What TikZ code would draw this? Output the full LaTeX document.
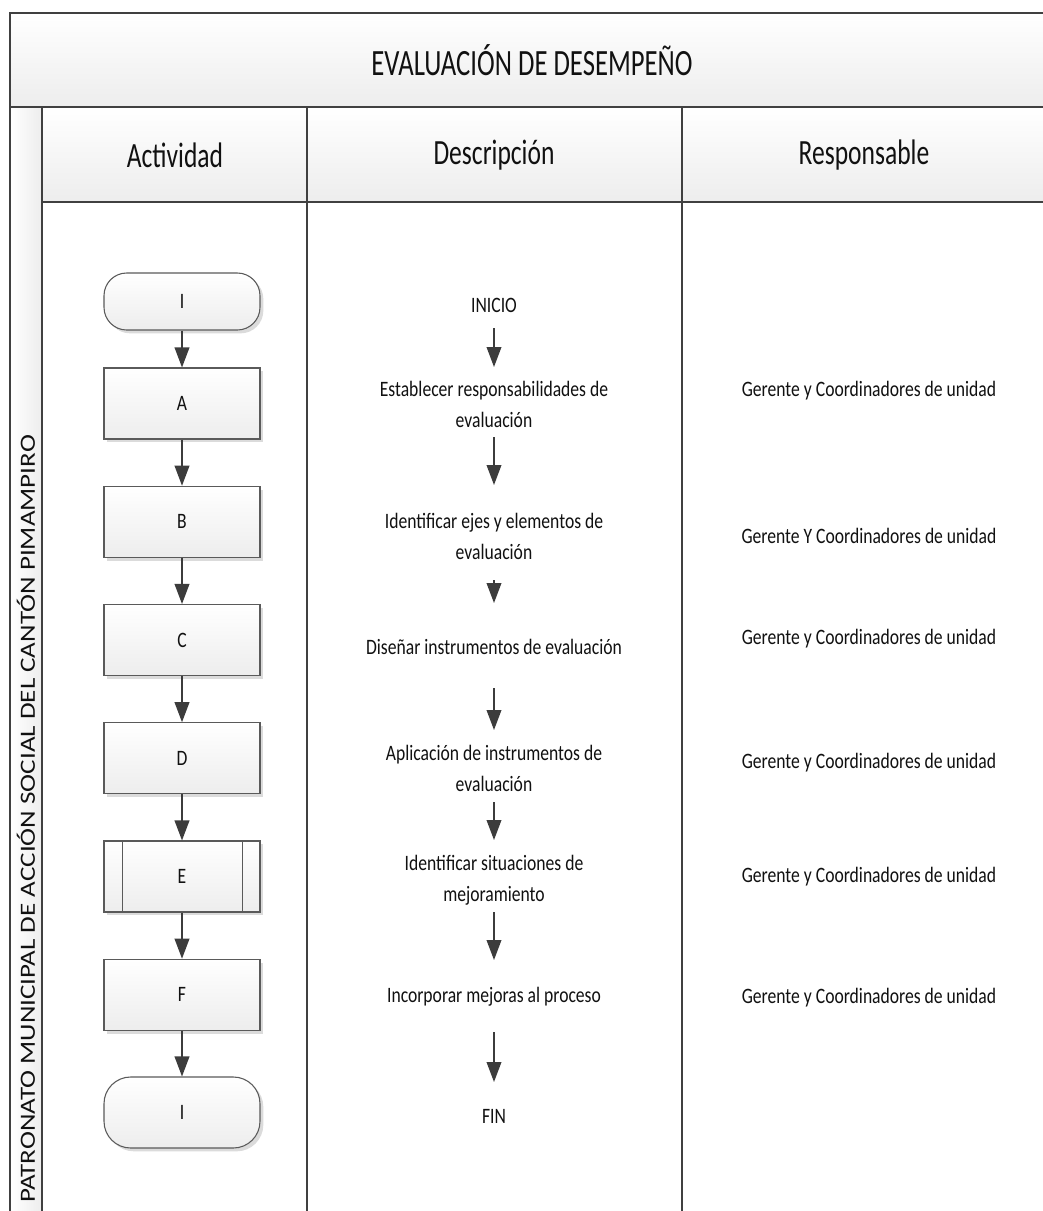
\documentclass[tikz,border=0pt]{standalone}
\usepackage{fontspec}
\setmainfont{Carlito}[FakeStretch=0.8]
\newfontfamily\headfont{Carlito}[FakeStretch=0.72]
\newfontfamily\lanefont{Carlito}
\usetikzlibrary{shadows,arrows.meta}
\definecolor{frameline}{HTML}{404040}
\definecolor{shapeline}{HTML}{5A5A5A}
\definecolor{arrowgray}{HTML}{3C3C3C}
\definecolor{cellbottom}{HTML}{EDEDED}
\definecolor{txt}{HTML}{111111}

\begin{document}
\begin{tikzpicture}[x=0.75pt,y=-0.75pt,
  cell/.style={draw=frameline,line width=1.6pt,top color=white,bottom color=cellbottom},
  hdr/.style={font=\headfont\fontsize{26.6}{30}\selectfont,text=txt},
  body/.style={font=\fontsize{16.5}{23.25}\selectfont,text=txt,align=center,inner sep=0pt},
  proc/.style={draw=shapeline,line width=0.8pt,top color=white,bottom color=cellbottom,
    minimum width=117pt,minimum height=53.25pt,inner sep=0pt,
    drop shadow={shadow xshift=2.5pt,shadow yshift=-2.5pt,fill=black!14,opacity=1},
    font=\fontsize{16.5}{20}\selectfont,text=txt},
  term/.style={proc,rounded corners=17pt},
  flow/.style={draw=arrowgray,line width=1.2pt,-{Triangle[length=15pt,width=11pt]}}
]
\useasboundingbox (0,0) rectangle (1043,1211);
\fill[white] (0,0) rectangle (1043,1211);

% title band and column headers
\shadedraw[cell] (10,13) rectangle (1047,107);
\shadedraw[cell] (42,107) rectangle (307,202);
\shadedraw[cell] (307,107) rectangle (682,202);
\shadedraw[cell] (682,107) rectangle (1047,202);
% lane strip
\shadedraw[draw=frameline,line width=1.6pt,left color=white,right color=cellbottom] (10,107) rectangle (42,1222);
% column separators
\draw[frameline,line width=1.6pt] (307,202) -- (307,1222);
\draw[frameline,line width=1.6pt] (682,202) -- (682,1222);

\node[font=\headfont\fontsize{27.8}{32}\selectfont,text=txt] (title) at (532,60) {EVALUACIÓN DE DESEMPEÑO};
\node[hdr] (hact) at (175,155) {Actividad};
\node[hdr] (hdesc) at (494,155) {Descripción};
\node[hdr] (hresp) at (864,155) {Responsable};
\node[rotate=90,text=txt] (lane) at (26,819)
  {\scalebox{1}[0.8]{\lanefont\fontsize{20.3}{24}\selectfont PATRONATO MUNICIPAL DE ACCIÓN SOCIAL DEL CANTÓN PIMAMPIRO}};

% activity flow
\node[term,minimum height=42.75pt] (i1) at (182,301.5) {I};
\node[proc] (a) at (182,403.5) {A};
\node[proc] (b) at (182,521.75) {B};
\node[proc] (c) at (182,640) {C};
\node[proc] (d) at (182,758.25) {D};
\node[proc] (e) at (182,876.5) {E};
\draw[shapeline,line width=0.8pt] ([xshift=14.25pt]e.north west) -- ([xshift=14.25pt]e.south west);
\draw[shapeline,line width=0.8pt] ([xshift=-13.5pt]e.north east) -- ([xshift=-13.5pt]e.south east);
\node[proc] (f) at (182,994.75) {F};
\node[term,rounded corners=20pt] (i2) at (182,1112.5) {I};

\draw[flow] (i1) -- (a);
\draw[flow] (a) -- (b);
\draw[flow] (b) -- (c);
\draw[flow] (c) -- (d);
\draw[flow] (d) -- (e);
\draw[flow] (e) -- (f);
\draw[flow] (f) -- (i2);

% descriptions
\node[body] (d0) at (494,305) {INICIO};
\node[body] (d1) at (494,404.5) {Establecer responsabilidades de\\evaluación};
\node[body] (d2) at (494,536.5) {Identificar ejes y elementos de\\evaluación};
\node[body] (d3) at (494,647) {Diseñar instrumentos de evaluación};
\node[body] (d4) at (494,768) {Aplicación de instrumentos de\\evaluación};
\node[body] (d5) at (494,880) {Identificar situaciones de\\mejoramiento};
\node[body] (d6) at (494,997) {Incorporar mejoras al proceso};
\node[body] (d7) at (494,1116) {FIN};

\coordinate (s1) at (494,328);  \coordinate (t1) at (494,367);
\coordinate (s2) at (494,437);  \coordinate (t2) at (494,485);
\coordinate (s3) at (494,580);  \coordinate (t3) at (494,603);
\coordinate (s4) at (494,688);  \coordinate (t4) at (494,730);
\coordinate (s5) at (494,802);  \coordinate (t5) at (494,840);
\coordinate (s6) at (494,912);  \coordinate (t6) at (494,960);
\coordinate (s7) at (494,1032); \coordinate (t7) at (494,1082);
\foreach \k in {1,...,7} { \draw[flow] (s\k) -- (t\k); }

% responsible
\node[body] (r1) at (869,391) {Gerente y Coordinadores de unidad};
\node[body] (r2) at (869,536) {Gerente Y Coordinadores de unidad};
\node[body] (r3) at (869,639) {Gerente y Coordinadores de unidad};
\node[body] (r4) at (869,763) {Gerente y Coordinadores de unidad};
\node[body] (r5) at (869,877) {Gerente y Coordinadores de unidad};
\node[body] (r6) at (869,998) {Gerente y Coordinadores de unidad};
\end{tikzpicture}
\end{document}
